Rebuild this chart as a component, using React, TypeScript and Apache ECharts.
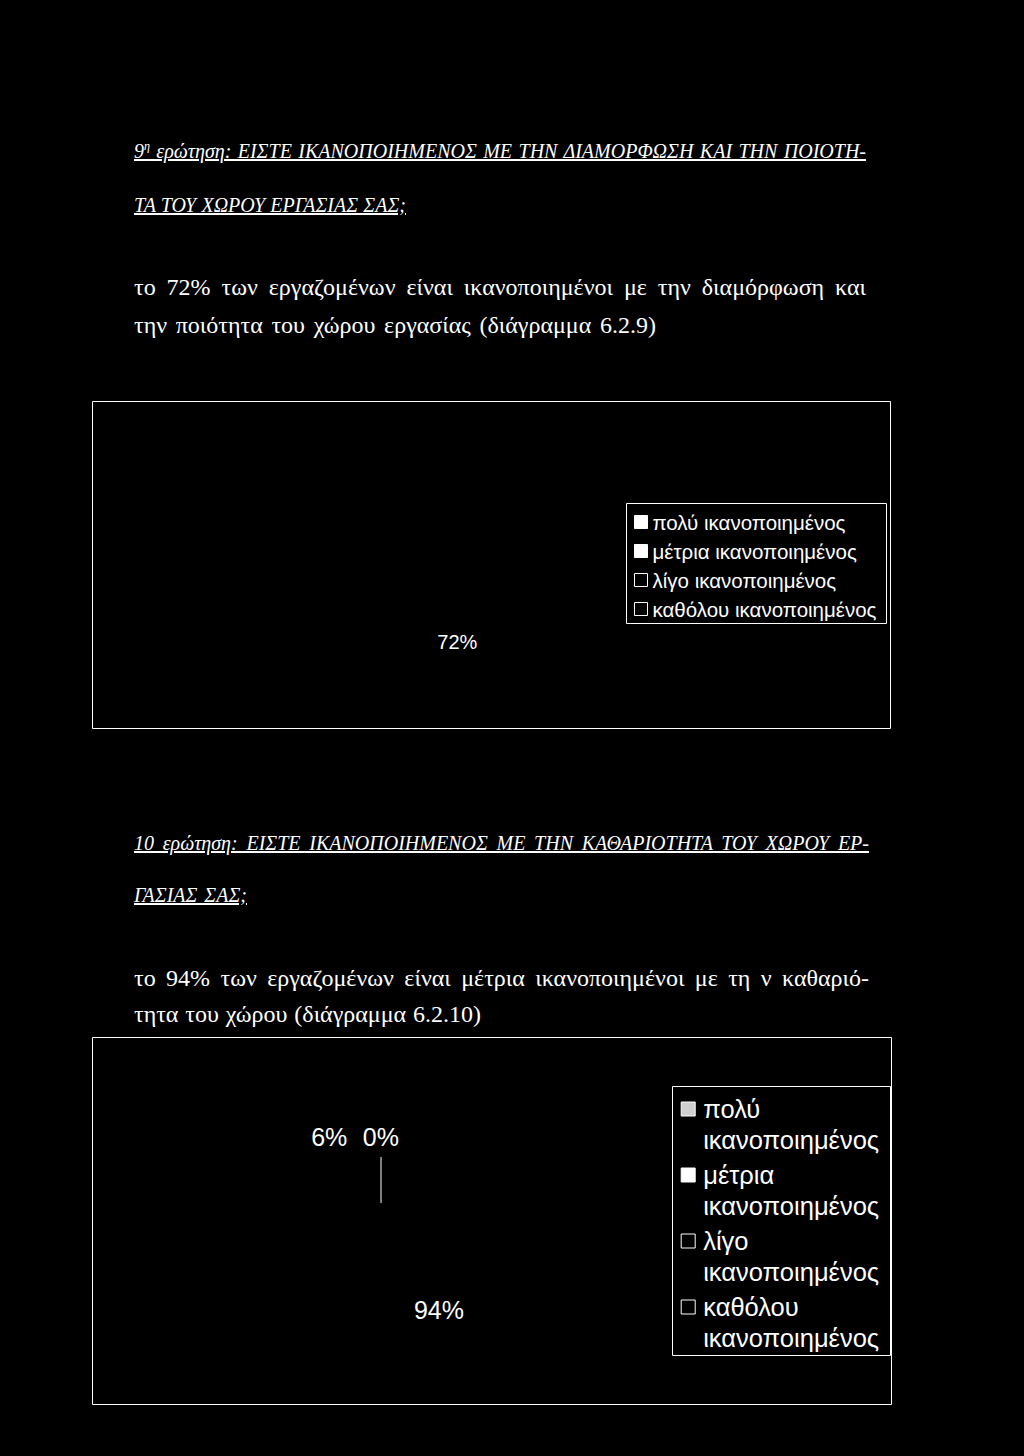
import React, { useEffect, useRef } from "react";
import * as echarts from "echarts";

// ---------- data ----------
const categories = [
  "πολύ ικανοποιημένος",
  "μέτρια ικανοποιημένος",
  "λίγο ικανοποιημένος",
  "καθόλου ικανοποιημένος",
];
// Diagram 6.2.9
const values1 = [72, 28, 0, 0];
const labelShown1 = [true, false, false, false];
// Diagram 6.2.10
const values2 = [0, 94, 6, 0];
const labelShown2 = [true, true, true, false];

// ---------- styles ----------
const SANS = "Liberation Sans";
const SERIF = "Liberation Serif";
const legendFill1 = ["#ffffff", "#ffffff", "#000000", "#000000"];
const legendFill2 = ["#cfcfcf", "#ffffff", "#000000", "#000000"];
const labelNudge2 = [
  { dx: 23, dy: -20 },
  { dx: 48, dy: -45 },
  {},
  {},
];

function Chart1() {
  const ref = useRef<HTMLDivElement>(null);
  useEffect(() => {
    const chart = echarts.init(ref.current!, null, { renderer: "svg" });
    const W = 799;
    const H = 328;
    chart.setOption({
      animation: false,
      backgroundColor: "#000",
      graphic: [
        {
          type: "rect",
          silent: true,
          shape: { x: 0.5, y: 0.5, width: W - 1, height: H - 1 },
          style: { fill: "none", stroke: "#fff", lineWidth: 1 },
        },
        {
          type: "rect",
          silent: true,
          shape: { x: 534.5, y: 102.5, width: 260, height: 120 },
          style: { fill: "none", stroke: "#fff", lineWidth: 1 },
        },
      ],
      legend: {
        orient: "vertical",
        left: 542,
        top: 110,
        padding: 0,
        itemGap: 7,
        itemWidth: 13,
        itemHeight: 13,
        selectedMode: false,
        textStyle: { color: "#fff", fontSize: 20.5, lineHeight: 22, fontFamily: SANS },
        data: categories.map((c, i) => ({
          name: c,
          icon: "rect",
          itemStyle: { color: legendFill1[i], borderColor: "#fff", borderWidth: 1 },
        })),
      },
      series: [
        {
          type: "pie",
          center: [324.5, 207],
          radius: 100,
          startAngle: 90,
          clockwise: true,
          avoidLabelOverlap: false,
          silent: true,
          itemStyle: { color: "#000", borderWidth: 0 },
          label: {
            show: true,
            position: "inside",
            formatter: "{d}%",
            color: "#fff",
            fontSize: 20,
            fontFamily: SANS,
          },
          labelLine: { show: false },
          emphasis: { disabled: true },
          data: categories.map((c, i) => ({
            name: c,
            value: values1[i],
            label: { show: labelShown1[i] },
          })),
        },
      ],
    });
    return () => chart.dispose();
  }, []);
  return (
    <div
      ref={ref}
      style={{ position: "absolute", left: 92, top: 401, width: 799, height: 328 }}
    />
  );
}

function Chart2() {
  const ref = useRef<HTMLDivElement>(null);
  useEffect(() => {
    const chart = echarts.init(ref.current!, null, { renderer: "svg" });
    const W = 800;
    const H = 368;
    const itemLabels: any[] = [
      { show: labelShown2[0], position: "outside" },
      { show: labelShown2[1], position: "inside" },
      { show: labelShown2[2], position: "outside", distanceToLabelLine: 2 },
      { show: labelShown2[3] },
    ];
    const itemLines: any[] = [
      { show: true, length: 46, length2: 0, lineStyle: { color: "#fff", width: 1 } },
      { show: false },
      { show: false, length: 69, length2: 0 },
      { show: false },
    ];
    chart.setOption({
      animation: false,
      backgroundColor: "#000",
      graphic: [
        {
          type: "rect",
          silent: true,
          shape: { x: 0.5, y: 0.5, width: W - 1, height: H - 1 },
          style: { fill: "none", stroke: "#fff", lineWidth: 1 },
        },
        {
          type: "rect",
          silent: true,
          shape: { x: 580.5, y: 49.5, width: 218, height: 269 },
          style: { fill: "none", stroke: "#fff", lineWidth: 1 },
        },
      ],
      legend: {
        orient: "vertical",
        left: 588.7,
        top: 56.5,
        padding: 0,
        itemGap: 4,
        itemWidth: 17,
        itemHeight: 45,
        selectedMode: false,
        formatter: (n: string) => n.replace(" ", "\n"),
        textStyle: { color: "#fff", fontSize: 25.5, lineHeight: 31, fontFamily: SANS },
        data: categories.map((c, i) => ({
          name: c,
          icon: "path://M0,0L14,0L14,14L0,14Z M17,45",
          itemStyle: { color: legendFill2[i], borderColor: "#fff", borderWidth: 1 },
        })),
      },
      series: [
        {
          type: "pie",
          center: [289, 266],
          radius: 100,
          startAngle: 90,
          clockwise: true,
          avoidLabelOverlap: false,
          silent: true,
          itemStyle: { color: "#000", borderWidth: 0 },
          label: {
            show: true,
            formatter: "{d}%",
            color: "#fff",
            fontSize: 25,
            fontFamily: SANS,
          },
          labelLayout: (p: any) => labelNudge2[p.dataIndex] || {},
          emphasis: { disabled: true },
          data: categories.map((c, i) => ({
            name: c,
            value: values2[i],
            label: itemLabels[i],
            labelLine: itemLines[i],
          })),
        },
      ],
    });
    return () => chart.dispose();
  }, []);
  return (
    <div
      ref={ref}
      style={{ position: "absolute", left: 92, top: 1037, width: 800, height: 368 }}
    />
  );
}

type LineProps = {
  top: number;
  width: number;
  size: number;
  italic?: boolean;
  underline?: boolean;
  children: React.ReactNode;
};

function Line({ top, width, size, italic, underline, children }: LineProps) {
  return (
    <div
      style={{
        position: "absolute",
        left: 134,
        top,
        width,
        fontFamily: SERIF,
        fontSize: size,
        lineHeight: 1,
        whiteSpace: "nowrap",
        textAlign: "justify",
        textAlignLast: "justify" as any,
        fontStyle: italic ? "italic" : "normal",
        textDecoration: underline ? "underline" : "none",
        color: "#fff",
      }}
    >
      {children}
    </div>
  );
}

export default function App() {
  useEffect(() => {
    document.body.style.margin = "0";
    document.body.style.background = "#000";
  }, []);
  return (
    <div
      style={{
        position: "absolute",
        left: 0,
        top: 0,
        width: 1024,
        height: 1456,
        background: "#000",
        overflow: "hidden",
      }}
    >
      <Line top={141} width={732} size={20} italic underline>
        9<sup style={{ fontSize: "60%", lineHeight: 0 }}>η</sup> ερώτηση: ΕΙΣΤΕ ΙΚΑΝΟΠΟΙΗΜΕΝΟΣ ΜΕ ΤΗΝ ΔΙΑΜΟΡΦΩΣΗ ΚΑΙ ΤΗΝ ΠΟΙΟΤΗ-
      </Line>
      <Line top={195} width={272} size={20} italic underline>
        ΤΑ ΤΟΥ ΧΩΡΟΥ ΕΡΓΑΣΙΑΣ ΣΑΣ;
      </Line>
      <Line top={275} width={732} size={24}>
        το 72% των εργαζομένων είναι ικανοποιημένοι με την διαμόρφωση και
      </Line>
      <Line top={313} width={522} size={24}>
        την ποιότητα του χώρου εργασίας (διάγραμμα 6.2.9)
      </Line>
      <Chart1 />
      <Line top={833} width={735} size={20} italic underline>
        10 ερώτηση: ΕΙΣΤΕ ΙΚΑΝΟΠΟΙΗΜΕΝΟΣ ΜΕ ΤΗΝ ΚΑΘΑΡΙΟΤΗΤΑ ΤΟΥ ΧΩΡΟΥ ΕΡ-
      </Line>
      <Line top={885} width={113} size={20} italic underline>
        ΓΑΣΙΑΣ ΣΑΣ;
      </Line>
      <Line top={966} width={735} size={24}>
        το 94% των εργαζομένων είναι μέτρια ικανοποιημένοι με τη ν καθαριό-
      </Line>
      <Line top={1002} width={347} size={24}>
        τητα του χώρου (διάγραμμα 6.2.10)
      </Line>
      <Chart2 />
    </div>
  );
}
